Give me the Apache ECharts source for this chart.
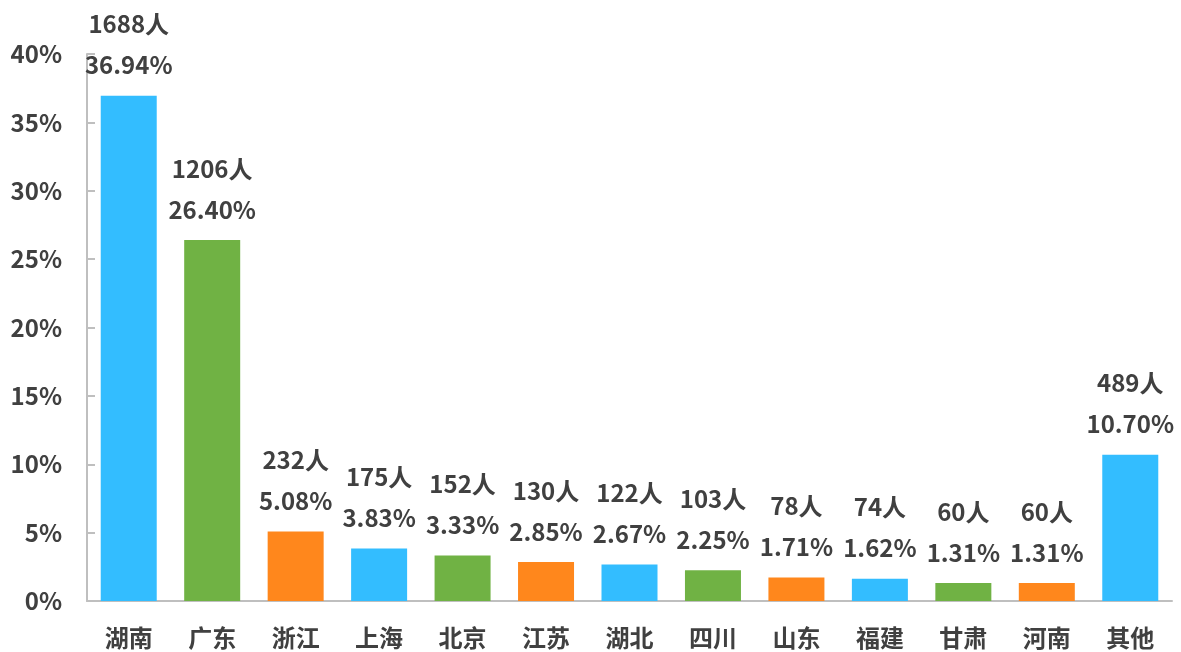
<!DOCTYPE html>
<html>
<head>
<meta charset="utf-8">
<script src="https://cdn.jsdelivr.net/npm/echarts@6/dist/echarts.min.js"></script>
<style>html,body{margin:0;padding:0;background:#fff}#c{width:1181px;height:652px}</style>
</head>
<body>
<div id="c"></div>
<script>
var categories = ['湖南','广东','浙江','上海','北京','江苏','湖北','四川','山东','福建','甘肃','河南','其他'];
var counts = [1688,1206,232,175,152,130,122,103,78,74,60,60,489];
var percents = [36.94,26.40,5.08,3.83,3.33,2.85,2.67,2.25,1.71,1.62,1.31,1.31,10.70];
var yTicks = [0,5,10,15,20,25,30,35,40];
var palette = ['#33BDFF','#70B244','#FF871C'];

var textColor = '#404040';
var font = '"Noto Sans CJK SC", "Noto Sans", sans-serif';
var chart = echarts.init(document.getElementById('c'));
chart.setOption({
  animation: false,
  grid: {left: 87, right: 9, top: 54, bottom: 51, containLabel: false},
  xAxis: {
    type: 'category',
    data: categories,
    axisLine: {lineStyle: {color: '#BFBFBF', width: 2}},
    axisTick: {show: false},
    axisLabel: {color: textColor, fontSize: 24, fontWeight: 'bold', fontFamily: font, margin: 25}
  },
  yAxis: {
    type: 'value',
    min: yTicks[0], max: yTicks[yTicks.length-1], interval: 5,
    axisLine: {show: true, lineStyle: {color: '#BFBFBF', width: 2}},
    axisTick: {show: true, inside: true, length: 8, lineStyle: {color: '#BFBFBF', width: 2}},
    splitLine: {show: false},
    axisLabel: {color: textColor, fontSize: 24, fontWeight: 'bold', fontFamily: font, margin: 25, formatter: '{value}%'}
  },
  series: [{
    type: 'bar',
    barWidth: 56,
    data: percents.map(function(v, i){ return {value: v, itemStyle: {color: palette[i % 3]}}; }),
    label: {
      show: true, position: 'top', distance: 10,
      color: textColor, fontSize: 24, fontWeight: 'bold', fontFamily: font, lineHeight: 41,
      formatter: function(p){ return counts[p.dataIndex] + '人\n' + percents[p.dataIndex].toFixed(2) + '%'; }
    }
  }]
});
</script>
</body>
</html>
